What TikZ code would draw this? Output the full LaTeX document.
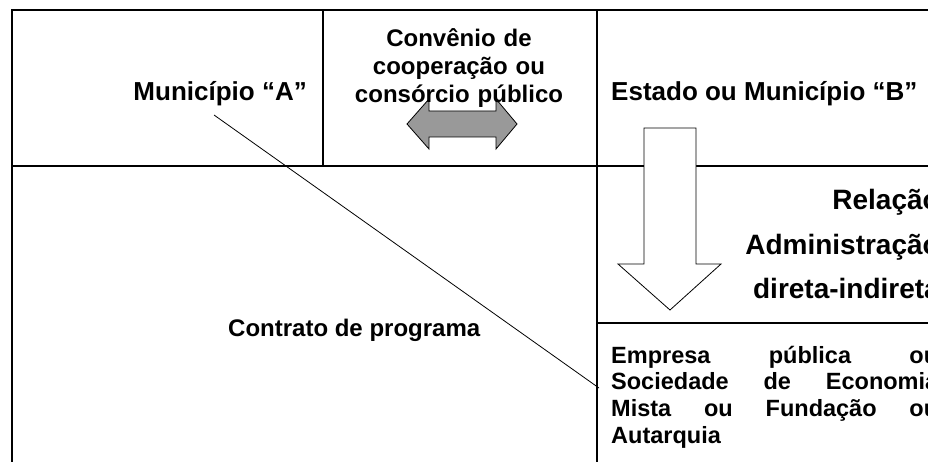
\documentclass[tikz,border=0pt]{standalone}
\usepackage{fontspec}
\setmainfont{Liberation Sans}
\usepackage{tikz}
\usepackage{xcolor}

\definecolor{arrowgray}{RGB}{153,153,153}

\begin{document}
\begin{tikzpicture}[x=1pt, y=-1pt,
    rule/.style={line width=1.5pt},
    bigtxt/.style={inner sep=0pt, font=\bfseries\fontsize{26}{30}\selectfont},
    midtxt/.style={inner sep=0pt, font=\bfseries\fontsize{24}{28}\selectfont},
    reltxt/.style={inner sep=0pt, font=\bfseries\fontsize{28}{44.5}\selectfont},
    smalltxt/.style={inner sep=0pt, font=\bfseries\fontsize{23.5}{26.7}\selectfont}]

      \useasboundingbox (0, 0) rectangle (928, 462);
      \clip (0, 0) rectangle (928, 462);

      \draw[rule] (940, 10) -- (12, 10) -- (12, 470);
      \draw[rule] (323, 10) -- (323, 166);
      \draw[rule] (597, 10) -- (597, 470);
      \draw[rule] (12, 166) -- (940, 166);
      \draw[rule] (597, 323) -- (940, 323);

      \filldraw[fill=arrowgray, draw=black, line width=0.8pt] (407, 124) -- (429, 99) -- (429, 111) -- (496, 111) -- (496, 99) -- (517, 124) -- (496, 149) -- (496, 137) -- (429, 137) -- (429, 149) -- cycle;
      \filldraw[fill=white, draw=black, line width=0.8pt] (644, 128) -- (696, 128) -- (696, 264) -- (721, 264) -- (670, 310) -- (618, 264) -- (644, 264) -- cycle;

      \node[bigtxt, anchor=base east] (mA) at (307, 101) {Município “A”};
      \node[bigtxt, anchor=base west] (mB) at (611, 101) {Estado ou Município “B”};
      \node[midtxt, anchor=base, text width=260pt, align=center] (conv) at (459, 47) {Convênio de\\ cooperação ou\\ consórcio público};
      \node[reltxt, anchor=base east, text width=220pt, align=right] (rel) at (940, 210) {Relação\\ Administração\\ direta-indireta};
      \node[midtxt, anchor=base west] (contr) at (228, 336) {Contrato de programa};
      \node[smalltxt, anchor=base west, text width=327pt, align=left] (emp) at (611, 363) {\makebox[327pt][s]{Empresa\hfill pública\hfill ou}\\ \makebox[327pt][s]{Sociedade\hfill de\hfill Economia}\\ \makebox[327pt][s]{Mista\hfill ou\hfill Fundação\hfill ou}\\ Autarquia};

      \coordinate (p) at (214, 115);
      \coordinate (q) at (599, 388);
      \draw[line width=0.8pt] (p) -- (q);

\end{tikzpicture}
\end{document}
